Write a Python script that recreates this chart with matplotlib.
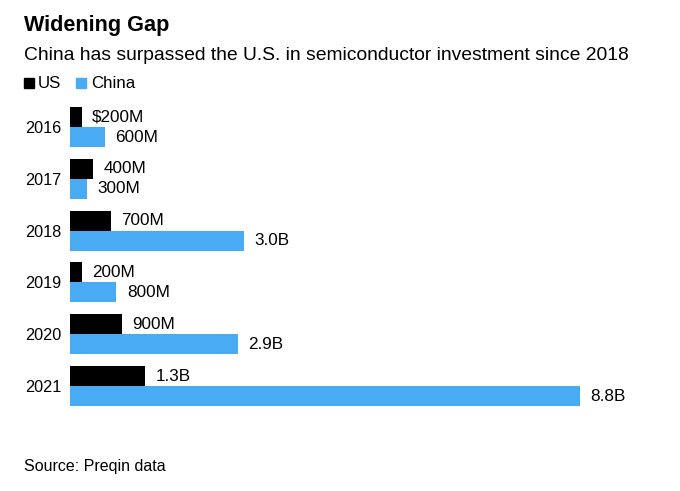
import matplotlib.pyplot as plt
import numpy as np

plt.rcParams['font.family'] = ['Liberation Sans', 'DejaVu Sans']

years = ['2016', '2017', '2018', '2019', '2020', '2021']
us = [0.2, 0.4, 0.7, 0.2, 0.9, 1.3]
china = [0.6, 0.3, 3.0, 0.8, 2.9, 8.8]
us_labels = ['$200M', '400M', '700M', '200M', '900M', '1.3B']
china_labels = ['600M', '300M', '3.0B', '800M', '2.9B', '8.8B']

us_color = '#000000'
china_color = '#4aabf5'

fig = plt.figure(figsize=(6.8, 4.91), dpi=100)
ax = fig.add_axes([70 / 680, 0.161, 570 / 680, 0.633])

y = np.arange(len(years))
h = 0.386
ax.barh(y - h / 2, us, height=h, color=us_color)
ax.barh(y + h / 2, china, height=h, color=china_color)

for i in range(len(years)):
    ax.annotate(us_labels[i], (us[i], y[i] - h / 2), xytext=(7.5, 0),
                textcoords='offset points', va='center', ha='left', fontsize=12.3)
    ax.annotate(china_labels[i], (china[i], y[i] + h / 2), xytext=(7.5, 0),
                textcoords='offset points', va='center', ha='left', fontsize=12.3)

ax.set_xlim(0, 570 / 57.95)
ax.set_ylim(5.5, -0.5)
ax.set_yticks(y)
ax.set_yticklabels(years, fontsize=11.7)
ax.tick_params(axis='y', length=0, pad=6)
ax.set_xticks([])
for s in ax.spines.values():
    s.set_visible(False)

# header
fig.text(24 / 680, 1 - 25 / 491, 'Widening Gap', fontsize=15.6, fontweight='bold', va='center')
fig.text(24 / 680, 1 - 56 / 491, 'China has surpassed the U.S. in semiconductor investment since 2018',
         fontsize=13.9, va='center')

# legend
fig.patches.append(plt.Rectangle((24 / 680, 1 - 88 / 491), 10 / 680, 10 / 491,
                                 color=us_color, transform=fig.transFigure))
fig.text(38 / 680, 1 - 83 / 491, 'US', fontsize=12.2, va='center')
fig.patches.append(plt.Rectangle((76 / 680, 1 - 88 / 491), 10 / 680, 10 / 491,
                                 color=china_color, transform=fig.transFigure))
fig.text(91 / 680, 1 - 83 / 491, 'China', fontsize=12.2, va='center')

fig.text(24 / 680, 1 - 467 / 491, 'Source: Preqin data', fontsize=11.5, va='center')

plt.savefig('out.png', dpi=100)
plt.close()
